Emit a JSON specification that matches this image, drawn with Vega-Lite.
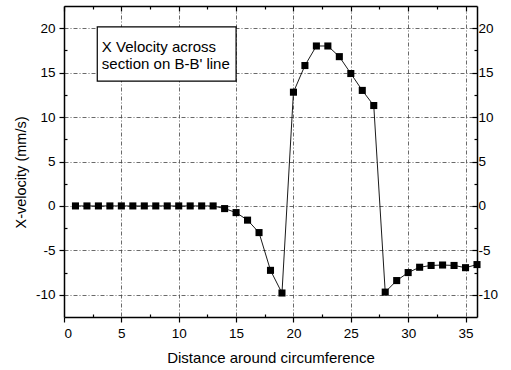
{
  "$schema": "https://vega.github.io/schema/vega-lite/v6.json",
  "width": 413,
  "height": 311,
  "autosize": "none",
  "padding": {"left": 64, "top": 6, "right": 34, "bottom": 53},
  "config": {
    "view": {"stroke": null},
    "font": "Liberation Sans",
    "axis": {
      "domainColor": "black",
      "domainWidth": 1.5,
      "tickColor": "black",
      "tickWidth": 1.2,
      "labelColor": "black",
      "labelFont": "Liberation Sans",
      "labelFontSize": 13.5,
      "titleFont": "Liberation Sans",
      "titleFontSize": 14,
      "titleFontWeight": "normal",
      "titleColor": "black"
    }
  },
  "datasets": {
    "velocity": [
      {"distance": 1, "velocity": 0},
      {"distance": 2, "velocity": 0},
      {"distance": 3, "velocity": 0},
      {"distance": 4, "velocity": 0},
      {"distance": 5, "velocity": 0},
      {"distance": 6, "velocity": 0},
      {"distance": 7, "velocity": 0},
      {"distance": 8, "velocity": 0},
      {"distance": 9, "velocity": 0},
      {"distance": 10, "velocity": 0},
      {"distance": 11, "velocity": 0},
      {"distance": 12, "velocity": 0},
      {"distance": 13, "velocity": 0},
      {"distance": 14, "velocity": -0.3},
      {"distance": 15, "velocity": -0.75},
      {"distance": 16, "velocity": -1.6},
      {"distance": 17, "velocity": -3.0},
      {"distance": 18, "velocity": -7.25},
      {"distance": 19, "velocity": -9.8},
      {"distance": 20, "velocity": 12.8},
      {"distance": 21, "velocity": 15.8},
      {"distance": 22, "velocity": 18.0},
      {"distance": 23, "velocity": 18.0},
      {"distance": 24, "velocity": 16.8},
      {"distance": 25, "velocity": 14.9},
      {"distance": 26, "velocity": 13.0},
      {"distance": 27, "velocity": 11.3},
      {"distance": 28, "velocity": -9.7},
      {"distance": 29, "velocity": -8.4},
      {"distance": 30, "velocity": -7.5},
      {"distance": 31, "velocity": -6.9},
      {"distance": 32, "velocity": -6.7},
      {"distance": 33, "velocity": -6.65},
      {"distance": 34, "velocity": -6.7},
      {"distance": 35, "velocity": -6.95},
      {"distance": 36, "velocity": -6.6}
    ],
    "note": [
      {"x0": 2.9, "x1": 15.0, "y0": 14.05, "y1": 20.15, "tx": 3.3, "ty1": 17.9, "ty2": 15.95, "line1": "X Velocity across", "line2": "section on B-B' line"}
    ]
  },
  "resolve": {"axis": {"x": "independent", "y": "independent"}},
  "layer": [
    {
      "data": {"name": "note"},
      "mark": {"type": "rect", "fill": "white", "stroke": "black", "strokeWidth": 1.2},
      "encoding": {
        "x": {
          "field": "x0", "type": "quantitative",
          "scale": {"domain": [0, 36], "nice": false, "zero": false},
          "axis": {
            "orient": "top", "title": null, "labels": false, "grid": false,
            "values": [0, 2.5, 5, 7.5, 10, 12.5, 15, 17.5, 20, 22.5, 25, 27.5, 30, 32.5, 35],
            "tickSize": {"condition": {"test": "datum.value % 5 === 0", "value": -5}, "value": -3}
          }
        },
        "x2": {"field": "x1"},
        "y": {
          "field": "y0", "type": "quantitative",
          "scale": {"domain": [-12.5, 22.5], "nice": false, "zero": false},
          "axis": {
            "orient": "right", "title": null, "grid": false,
            "values": [-10, -7.5, -5, -2.5, 0, 2.5, 5, 7.5, 10, 12.5, 15, 17.5, 20],
            "labelExpr": "datum.value % 5 === 0 ? replace(datum.label, '\u2212', '-') : ''",
            "labelPadding": 6,
            "tickSize": {"condition": {"test": "datum.value % 5 === 0", "value": -5}, "value": -3}
          }
        },
        "y2": {"field": "y1"}
      }
    },
    {
      "data": {"name": "note"},
      "mark": {"type": "text", "align": "left", "baseline": "middle", "fontSize": 15, "font": "Liberation Sans", "color": "black"},
      "encoding": {
        "x": {"field": "tx", "type": "quantitative", "axis": null},
        "y": {"field": "ty1", "type": "quantitative", "axis": null},
        "text": {"field": "line1"}
      }
    },
    {
      "data": {"name": "note"},
      "mark": {"type": "text", "align": "left", "baseline": "middle", "fontSize": 15, "font": "Liberation Sans", "color": "black"},
      "encoding": {
        "x": {"field": "tx", "type": "quantitative", "axis": null},
        "y": {"field": "ty2", "type": "quantitative", "axis": null},
        "text": {"field": "line2"}
      }
    },
    {
      "data": {"name": "velocity"},
      "mark": {
        "type": "line", "color": "black", "strokeWidth": 0.9,
        "point": {"shape": "square", "size": 50, "filled": true, "color": "black", "opacity": 1}
      },
      "encoding": {
        "x": {
          "field": "distance", "type": "quantitative",
          "axis": {
            "orient": "bottom", "title": "Distance around circumference", "titlePadding": 11, "titleFontSize": 15,
            "values": [0, 2.5, 5, 7.5, 10, 12.5, 15, 17.5, 20, 22.5, 25, 27.5, 30, 32.5, 35],
            "labelExpr": "datum.value % 5 === 0 ? datum.label : ''",
            "labelPadding": 4,
            "grid": true, "gridColor": "#444", "gridWidth": 0.8, "gridDash": [4, 2, 1, 2],
            "gridOpacity": {"condition": {"test": "datum.value % 5 === 0 && datum.value > 0", "value": 1}, "value": 0},
            "tickSize": {"condition": {"test": "datum.value % 5 === 0", "value": 5}, "value": -3}
          }
        },
        "y": {
          "field": "velocity", "type": "quantitative",
          "axis": {
            "orient": "left", "title": "X-velocity (mm/s)", "titleFontSize": 14.5, "titlePadding": 7, "titleY": 166,
            "values": [-10, -7.5, -5, -2.5, 0, 2.5, 5, 7.5, 10, 12.5, 15, 17.5, 20],
            "labelExpr": "datum.value % 5 === 0 ? replace(datum.label, '\u2212', '-') : ''",
            "labelPadding": 4,
            "grid": true, "gridColor": "#444", "gridWidth": 0.8, "gridDash": [4, 2, 1, 2],
            "gridOpacity": {"condition": {"test": "datum.value % 5 === 0", "value": 1}, "value": 0},
            "tickSize": {"condition": {"test": "datum.value % 5 === 0", "value": 5}, "value": -3}
          }
        }
      }
    }
  ]
}
